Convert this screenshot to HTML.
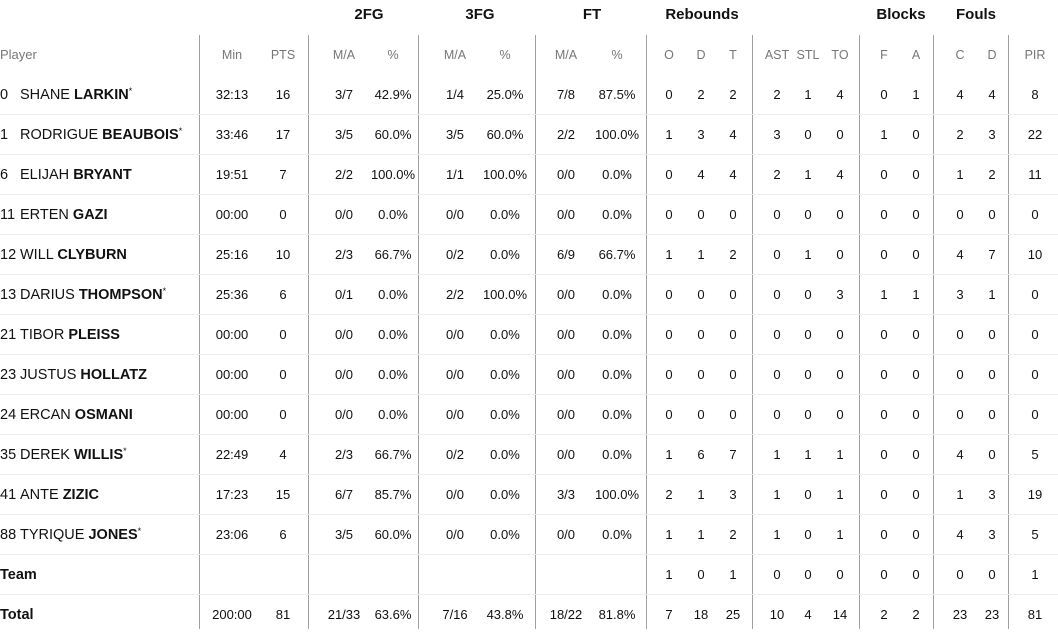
<!DOCTYPE html>
<html><head><meta charset="utf-8"><style>
body{margin:0;width:1058px;height:629px;background:#fff;font-family:"Liberation Sans",Arial,sans-serif;color:#111;position:relative;overflow:hidden}
.v{position:absolute;top:35px;bottom:0;width:1px;background:#a0a0a0}
.r{position:absolute;left:0;width:1058px;height:40px;line-height:42px;font-size:13px}
.r.b{border-bottom:1px solid #ececec}
.r>span{position:absolute;top:0;width:70px;margin-left:-35px;text-align:center}
.r>span:first-child{left:0;margin-left:0;width:200px;text-align:left;font-size:14.5px}
.r>span:nth-child(2){left:232px}.r>span:nth-child(3){left:283px}
.r>span:nth-child(4){left:344px}.r>span:nth-child(5){left:393px}
.r>span:nth-child(6){left:455px}.r>span:nth-child(7){left:505px}
.r>span:nth-child(8){left:566px}.r>span:nth-child(9){left:617px}
.r>span:nth-child(10){left:669px}.r>span:nth-child(11){left:701px}.r>span:nth-child(12){left:733px}
.r>span:nth-child(13){left:777px}.r>span:nth-child(14){left:808px}.r>span:nth-child(15){left:840px}
.r>span:nth-child(16){left:884px}.r>span:nth-child(17){left:916px}
.r>span:nth-child(18){left:960px}.r>span:nth-child(19){left:992px}
.r>span:nth-child(20){left:1035px}
.h>span{color:#777;font-size:12.5px}
.h>span:first-child{font-size:13px}
.g{position:absolute;top:0;height:28px;line-height:30px;font-weight:bold;font-size:15px;width:100px;margin-left:-50px;text-align:center}
b{font-weight:bold}
em.n{font-style:normal;display:inline-block;width:20px}
sup{font-size:9px;line-height:0;vertical-align:5px}
</style></head><body>
<div class="g" style="left:369px">2FG</div>
<div class="g" style="left:480px">3FG</div>
<div class="g" style="left:592px">FT</div>
<div class="g" style="left:702px">Rebounds</div>
<div class="g" style="left:901px">Blocks</div>
<div class="g" style="left:976px">Fouls</div>
<div class="v" style="left:199px"></div><div class="v" style="left:308px"></div><div class="v" style="left:418px"></div><div class="v" style="left:535px"></div><div class="v" style="left:646px"></div><div class="v" style="left:752px"></div><div class="v" style="left:859px"></div><div class="v" style="left:933px"></div><div class="v" style="left:1008px"></div>
<div class="r h" style="top:34px"><span>Player</span><span>Min</span><span>PTS</span><span>M/A</span><span>%</span><span>M/A</span><span>%</span><span>M/A</span><span>%</span><span>O</span><span>D</span><span>T</span><span>AST</span><span>STL</span><span>TO</span><span>F</span><span>A</span><span>C</span><span>D</span><span>PIR</span></div>
<div class="r b" style="top:74px"><span><em class="n">0</em>SHANE <b>LARKIN</b><sup>*</sup></span><span>32:13</span><span>16</span><span>3/7</span><span>42.9%</span><span>1/4</span><span>25.0%</span><span>7/8</span><span>87.5%</span><span>0</span><span>2</span><span>2</span><span>2</span><span>1</span><span>4</span><span>0</span><span>1</span><span>4</span><span>4</span><span>8</span></div>
<div class="r b" style="top:114px"><span><em class="n">1</em>RODRIGUE <b>BEAUBOIS</b><sup>*</sup></span><span>33:46</span><span>17</span><span>3/5</span><span>60.0%</span><span>3/5</span><span>60.0%</span><span>2/2</span><span>100.0%</span><span>1</span><span>3</span><span>4</span><span>3</span><span>0</span><span>0</span><span>1</span><span>0</span><span>2</span><span>3</span><span>22</span></div>
<div class="r b" style="top:154px"><span><em class="n">6</em>ELIJAH <b>BRYANT</b></span><span>19:51</span><span>7</span><span>2/2</span><span>100.0%</span><span>1/1</span><span>100.0%</span><span>0/0</span><span>0.0%</span><span>0</span><span>4</span><span>4</span><span>2</span><span>1</span><span>4</span><span>0</span><span>0</span><span>1</span><span>2</span><span>11</span></div>
<div class="r b" style="top:194px"><span><em class="n">11</em>ERTEN <b>GAZI</b></span><span>00:00</span><span>0</span><span>0/0</span><span>0.0%</span><span>0/0</span><span>0.0%</span><span>0/0</span><span>0.0%</span><span>0</span><span>0</span><span>0</span><span>0</span><span>0</span><span>0</span><span>0</span><span>0</span><span>0</span><span>0</span><span>0</span></div>
<div class="r b" style="top:234px"><span><em class="n">12</em>WILL <b>CLYBURN</b></span><span>25:16</span><span>10</span><span>2/3</span><span>66.7%</span><span>0/2</span><span>0.0%</span><span>6/9</span><span>66.7%</span><span>1</span><span>1</span><span>2</span><span>0</span><span>1</span><span>0</span><span>0</span><span>0</span><span>4</span><span>7</span><span>10</span></div>
<div class="r b" style="top:274px"><span><em class="n">13</em>DARIUS <b>THOMPSON</b><sup>*</sup></span><span>25:36</span><span>6</span><span>0/1</span><span>0.0%</span><span>2/2</span><span>100.0%</span><span>0/0</span><span>0.0%</span><span>0</span><span>0</span><span>0</span><span>0</span><span>0</span><span>3</span><span>1</span><span>1</span><span>3</span><span>1</span><span>0</span></div>
<div class="r b" style="top:314px"><span><em class="n">21</em>TIBOR <b>PLEISS</b></span><span>00:00</span><span>0</span><span>0/0</span><span>0.0%</span><span>0/0</span><span>0.0%</span><span>0/0</span><span>0.0%</span><span>0</span><span>0</span><span>0</span><span>0</span><span>0</span><span>0</span><span>0</span><span>0</span><span>0</span><span>0</span><span>0</span></div>
<div class="r b" style="top:354px"><span><em class="n">23</em>JUSTUS <b>HOLLATZ</b></span><span>00:00</span><span>0</span><span>0/0</span><span>0.0%</span><span>0/0</span><span>0.0%</span><span>0/0</span><span>0.0%</span><span>0</span><span>0</span><span>0</span><span>0</span><span>0</span><span>0</span><span>0</span><span>0</span><span>0</span><span>0</span><span>0</span></div>
<div class="r b" style="top:394px"><span><em class="n">24</em>ERCAN <b>OSMANI</b></span><span>00:00</span><span>0</span><span>0/0</span><span>0.0%</span><span>0/0</span><span>0.0%</span><span>0/0</span><span>0.0%</span><span>0</span><span>0</span><span>0</span><span>0</span><span>0</span><span>0</span><span>0</span><span>0</span><span>0</span><span>0</span><span>0</span></div>
<div class="r b" style="top:434px"><span><em class="n">35</em>DEREK <b>WILLIS</b><sup>*</sup></span><span>22:49</span><span>4</span><span>2/3</span><span>66.7%</span><span>0/2</span><span>0.0%</span><span>0/0</span><span>0.0%</span><span>1</span><span>6</span><span>7</span><span>1</span><span>1</span><span>1</span><span>0</span><span>0</span><span>4</span><span>0</span><span>5</span></div>
<div class="r b" style="top:474px"><span><em class="n">41</em>ANTE <b>ZIZIC</b></span><span>17:23</span><span>15</span><span>6/7</span><span>85.7%</span><span>0/0</span><span>0.0%</span><span>3/3</span><span>100.0%</span><span>2</span><span>1</span><span>3</span><span>1</span><span>0</span><span>1</span><span>0</span><span>0</span><span>1</span><span>3</span><span>19</span></div>
<div class="r b" style="top:514px"><span><em class="n">88</em>TYRIQUE <b>JONES</b><sup>*</sup></span><span>23:06</span><span>6</span><span>3/5</span><span>60.0%</span><span>0/0</span><span>0.0%</span><span>0/0</span><span>0.0%</span><span>1</span><span>1</span><span>2</span><span>1</span><span>0</span><span>1</span><span>0</span><span>0</span><span>4</span><span>3</span><span>5</span></div>
<div class="r b" style="top:554px"><span><b>Team</b></span><span></span><span></span><span></span><span></span><span></span><span></span><span></span><span></span><span>1</span><span>0</span><span>1</span><span>0</span><span>0</span><span>0</span><span>0</span><span>0</span><span>0</span><span>0</span><span>1</span></div>
<div class="r" style="top:594px"><span><b>Total</b></span><span>200:00</span><span>81</span><span>21/33</span><span>63.6%</span><span>7/16</span><span>43.8%</span><span>18/22</span><span>81.8%</span><span>7</span><span>18</span><span>25</span><span>10</span><span>4</span><span>14</span><span>2</span><span>2</span><span>23</span><span>23</span><span>81</span></div>
</body></html>
